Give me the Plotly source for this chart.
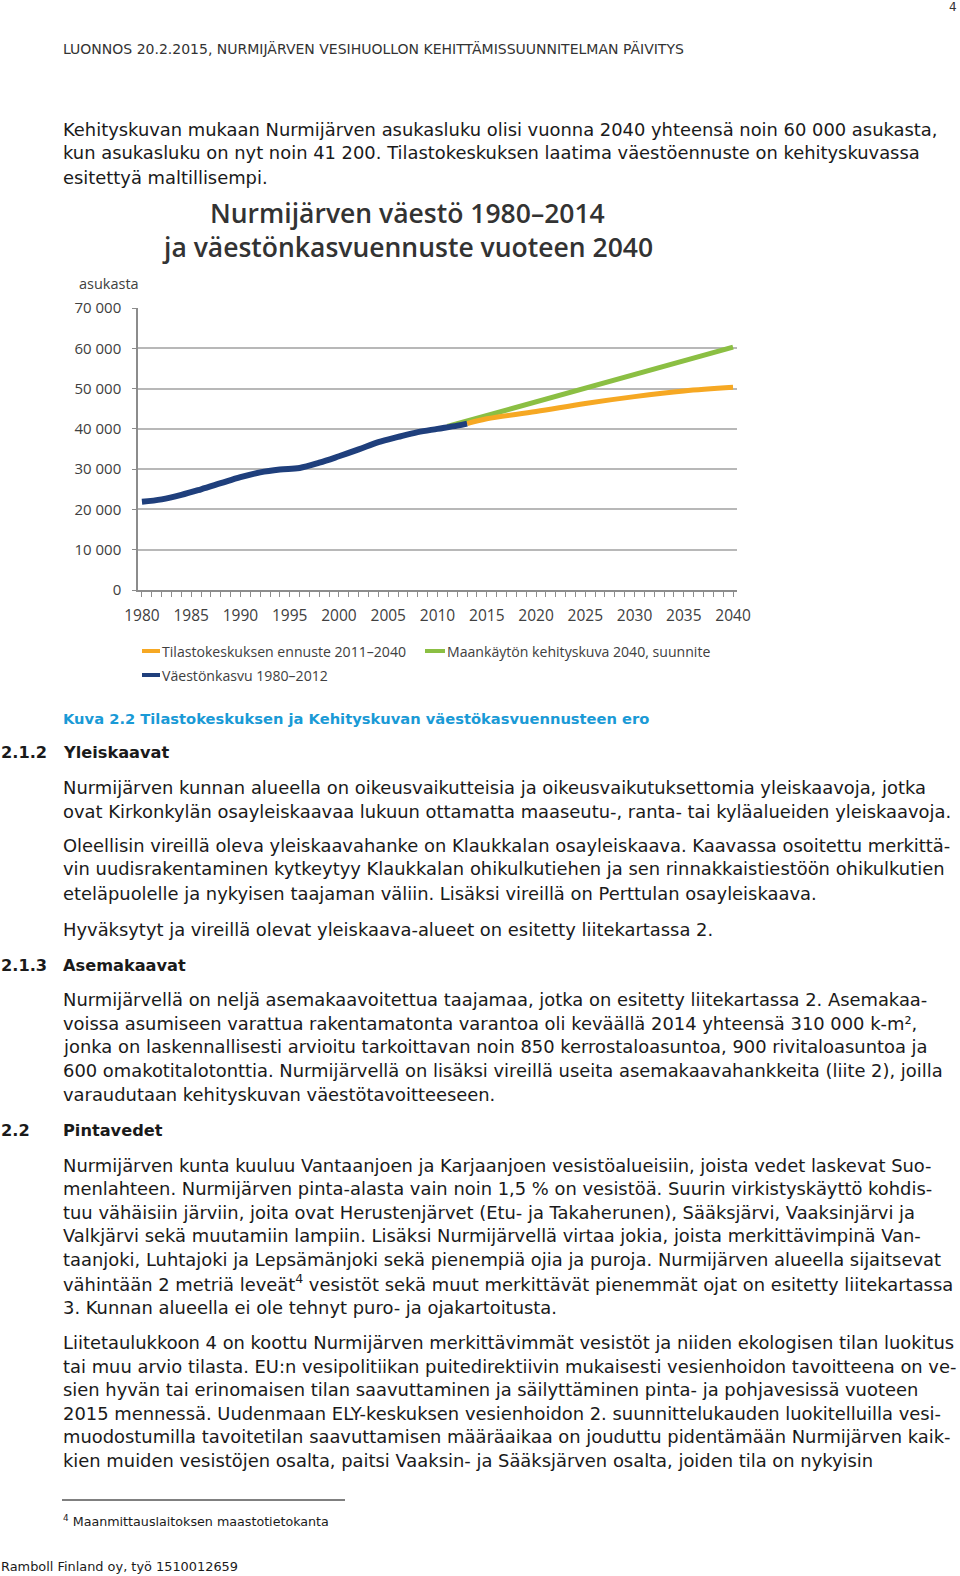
import plotly.graph_objects as go

W, H = 960, 1576

# ---------------- chart data ----------------
blue_years = [1980, 1982, 1984, 1986, 1988, 1990, 1992, 1994, 1996, 1998,
              2000, 2002, 2004, 2006, 2008, 2010, 2012, 2013]
blue_vals = [21900, 22500, 23600, 25000, 26500, 28000, 29200, 29900, 30300, 31600,
             33200, 34900, 36700, 38000, 39200, 40000, 40800, 41300]

orange_years = [2013, 2015, 2020, 2025, 2030, 2035, 2040]
orange_vals = [41300, 42500, 44300, 46300, 48000, 49400, 50300]

green_years = [2011, 2020, 2030, 2040]
green_vals = [40600, 46700, 53500, 60300]

y_ticks = [0, 10000, 20000, 30000, 40000, 50000, 60000, 70000]
x_ticks = list(range(1980, 2041, 5))

legend_names = ["Tilastokeskuksen ennuste 2011–2040",
                "Maankäytön kehityskuva 2040, suunnite",
                "Väestönkasvu 1980–2012"]

C_BLUE = "#1f3f7c"
C_ORANGE = "#f6a823"
C_GREEN = "#8bbf43"

CHART_FONT = "Open Sans"
BODY_FONT = "DejaVu Sans"
TXT = "#1a1a1a"

fig = go.Figure()
fig.add_trace(go.Scatter(x=green_years, y=green_vals, mode="lines", name=legend_names[1],
                         line=dict(color=C_GREEN, width=5)))
fig.add_trace(go.Scatter(x=orange_years, y=orange_vals, mode="lines", name=legend_names[0],
                         line=dict(color=C_ORANGE, width=5, shape="spline")))
fig.add_trace(go.Scatter(x=blue_years, y=blue_vals, mode="lines", name=legend_names[2],
                         line=dict(color=C_BLUE, width=6, shape="spline")))


def px(x):
    return x / W


def py(y):
    return 1 - y / H


annotations = []
shapes = []


def ann(text, x, y, size, color=TXT, family=BODY_FONT, xanchor="left", weight=None):
    f = dict(size=size, color=color, family=family)
    if weight:
        f["weight"] = weight
    annotations.append(dict(text=text, x=px(x), y=py(y), xref="paper", yref="paper",
                            xanchor=xanchor, yanchor="middle", showarrow=False,
                            borderpad=0, font=f))


# header
ann("4", 948, 7, 12, "#333")
ann("LUONNOS 20.2.2015, NURMIJÄRVEN VESIHUOLLON KEHITTÄMISSUUNNITELMAN PÄIVITYS", 62, 49, 14.0, "#333")

body_size = 17.9
head_size = 16.2
para1 = ["Kehityskuvan mukaan Nurmijärven asukasluku olisi vuonna 2040 yhteensä noin 60 000 asukasta,",
         "kun asukasluku on nyt noin 41 200. Tilastokeskuksen laatima väestöennuste on kehityskuvassa",
         "esitettyä maltillisempi."]
for t, yy in zip(para1, [129, 153, 177]):
    ann(t, 62, yy, body_size)

# chart title
ann("Nurmijärven väestö 1980–2014", 407, 213, 26.5, "#333", CHART_FONT, "center", weight=600)
ann("ja väestönkasvuennuste vuoteen 2040", 407, 247, 26.5, "#333", CHART_FONT, "center", weight=600)
ann("asukasta", 78, 283, 14.5, "#404040", CHART_FONT)

# legend
leg = [(142, 160, 651, C_ORANGE, legend_names[0]),
       (425, 445, 651, C_GREEN, legend_names[1]),
       (142, 160, 675, C_BLUE, legend_names[2])]
for x0, x1, yy, c, name in leg:
    shapes.append(dict(type="line", xref="paper", yref="paper", x0=px(x0), x1=px(x1),
                       y0=py(yy), y1=py(yy), line=dict(color=c, width=4)))
    ann(name, x1 + 1, yy, 14.1, "#404040", CHART_FONT)

# caption
ann("<b>Kuva 2.2 Tilastokeskuksen ja Kehityskuvan väestökasvuennusteen ero</b>", 62, 718, 14.7,
    "#1a9ad6")

# headings
ann("<b>2.1.2</b>", 0, 752, head_size)
ann("<b>Yleiskaavat</b>", 62, 752, head_size)

para2 = ["Nurmijärven kunnan alueella on oikeusvaikutteisia ja oikeusvaikutuksettomia yleiskaavoja, jotka",
         "ovat Kirkonkylän osayleiskaavaa lukuun ottamatta maaseutu-, ranta- tai kyläalueiden yleiskaavoja."]
for t, yy in zip(para2, [787, 811]):
    ann(t, 62, yy, body_size)

para3 = ["Oleellisin vireillä oleva yleiskaavahanke on Klaukkalan osayleiskaava. Kaavassa osoitettu merkittä-",
         "vin uudisrakentaminen kytkeytyy Klaukkalan ohikulkutiehen ja sen rinnakkaistiestöön ohikulkutien",
         "eteläpuolelle ja nykyisen taajaman väliin. Lisäksi vireillä on Perttulan osayleiskaava."]
for t, yy in zip(para3, [845, 869, 893]):
    ann(t, 62, yy, body_size)

ann("Hyväksytyt ja vireillä olevat yleiskaava-alueet on esitetty liitekartassa 2.", 62, 929, body_size)

ann("<b>2.1.3</b>", 0, 965, head_size)
ann("<b>Asemakaavat</b>", 62, 965, head_size)

para4 = ["Nurmijärvellä on neljä asemakaavoitettua taajamaa, jotka on esitetty liitekartassa 2. Asemakaa-",
         "voissa asumiseen varattua rakentamatonta varantoa oli keväällä 2014 yhteensä 310 000 k-m²,",
         "jonka on laskennallisesti arvioitu tarkoittavan noin 850 kerrostaloasuntoa, 900 rivitaloasuntoa ja",
         "600 omakotitalotonttia. Nurmijärvellä on lisäksi vireillä useita asemakaavahankkeita (liite 2), joilla",
         "varaudutaan kehityskuvan väestötavoitteeseen."]
for t, yy in zip(para4, [999, 1023, 1046, 1070, 1094]):
    ann(t, 62, yy, body_size)

ann("<b>2.2</b>", 0, 1130, head_size)
ann("<b>Pintavedet</b>", 62, 1130, head_size)

para5 = ["Nurmijärven kunta kuuluu Vantaanjoen ja Karjaanjoen vesistöalueisiin, joista vedet laskevat Suo-",
         "menlahteen. Nurmijärven pinta-alasta vain noin 1,5 % on vesistöä. Suurin virkistyskäyttö kohdis-",
         "tuu vähäisiin järviin, joita ovat Herustenjärvet (Etu- ja Takaherunen), Sääksjärvi, Vaaksinjärvi ja",
         "Valkjärvi sekä muutamiin lampiin. Lisäksi Nurmijärvellä virtaa jokia, joista merkittävimpinä Van-",
         "taanjoki, Luhtajoki ja Lepsämänjoki sekä pienempiä ojia ja puroja. Nurmijärven alueella sijaitsevat",
         "vähintään 2 metriä leveät<sup>4</sup> vesistöt sekä muut merkittävät pienemmät ojat on esitetty liitekartassa",
         "3. Kunnan alueella ei ole tehnyt puro- ja ojakartoitusta."]
for t, yy in zip(para5, [1165, 1188, 1212, 1235, 1259, 1283, 1307]):
    ann(t, 62, yy, body_size)

para6 = ["Liitetaulukkoon 4 on koottu Nurmijärven merkittävimmät vesistöt ja niiden ekologisen tilan luokitus",
         "tai muu arvio tilasta. EU:n vesipolitiikan puitedirektiivin mukaisesti vesienhoidon tavoitteena on ve-",
         "sien hyvän tai erinomaisen tilan saavuttaminen ja säilyttäminen pinta- ja pohjavesissä vuoteen",
         "2015 mennessä. Uudenmaan ELY-keskuksen vesienhoidon 2. suunnittelukauden luokitelluilla vesi-",
         "muodostumilla tavoitetilan saavuttamisen määräaikaa on jouduttu pidentämään Nurmijärven kaik-",
         "kien muiden vesistöjen osalta, paitsi Vaaksin- ja Sääksjärven osalta, joiden tila on nykyisin"]
for t, yy in zip(para6, [1342, 1366, 1389, 1413, 1436, 1460]):
    ann(t, 62, yy, body_size)

# footnote
shapes.append(dict(type="line", xref="paper", yref="paper", x0=px(62), x1=px(345),
                   y0=py(1500), y1=py(1500), line=dict(color="#000", width=1)))
ann("<sup>4</sup> Maanmittauslaitoksen maastotietokanta", 62, 1521, 12.7, TXT)
ann("Ramboll Finland oy, työ 1510012659", 0, 1566, 12.9, TXT)

fig.update_layout(
    width=W, height=H,
    margin=dict(l=0, r=0, t=0, b=0, pad=0, autoexpand=False),
    paper_bgcolor="white", plot_bgcolor="white",
    showlegend=False,
    separators=", ",
    annotations=annotations,
    shapes=shapes,
    xaxis=dict(domain=[138 / W, 737 / W], range=[1979.6, 2040.4], automargin=False,
               tickvals=x_ticks, ticks="outside", ticklen=5, tickcolor="#8c8c8c",
               showline=True, linecolor="#8c8c8c", linewidth=1.5, showgrid=False, zeroline=False,
               minor=dict(dtick=1, tick0=1980, ticks="outside", ticklen=5, tickcolor="#8c8c8c"),
               tickfont=dict(family=CHART_FONT, size=15.5, color="#404040"),
               ticklabelstandoff=6),
    yaxis=dict(domain=[1 - 590 / H, 1 - 308 / H], range=[0, 70000], automargin=False,
               tickvals=y_ticks, tickformat=",d", ticks="outside", ticklen=4, tickcolor="#8c8c8c",
               showline=True, linecolor="#8c8c8c", linewidth=1.5,
               showgrid=True, gridcolor="#b8b8b8", gridwidth=1.5, zeroline=False,
               tickfont=dict(family=CHART_FONT, size=15, color="#404040"),
               ticklabelstandoff=8),
)

fig.write_html("out.html", config={"displayModeBar": False},
               post_script="document.body.style.margin='0';document.body.style.padding='0';")
